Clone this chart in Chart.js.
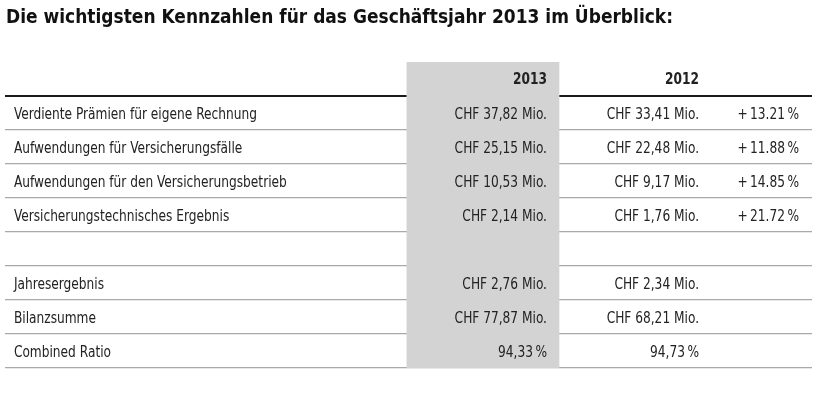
<!DOCTYPE html>
<html lang="de">
<head>
<meta charset="utf-8">
<script src="https://cdn.jsdelivr.net/npm/chart.js@4.4.1/dist/chart.umd.min.js"></script>
<style>
  html, body { margin: 0; padding: 0; background: #fff; }
  #wrap { width: 818px; height: 412px; }
</style>
</head>
<body>
<div id="wrap"><canvas id="kennzahlen"></canvas></div>
<script>
const tableTitle = 'Die wichtigsten Kennzahlen für das Geschäftsjahr 2013 im Überblick:';
const years = ['2013', '2012'];
const rowLabels = [
  'Verdiente Prämien für eigene Rechnung',
  'Aufwendungen für Versicherungsfälle',
  'Aufwendungen für den Versicherungsbetrieb',
  'Versicherungstechnisches Ergebnis',
  '',
  'Jahresergebnis',
  'Bilanzsumme',
  'Combined Ratio'
];
const units      = ['Mio', 'Mio', 'Mio', 'Mio', null, 'Mio', 'Mio', '%'];
const values2013 = [37.82, 25.15, 10.53, 2.14, null, 2.76, 77.87, 94.33];
const values2012 = [33.41, 22.48, 9.17, 1.76, null, 2.34, 68.21, 94.73];
const changePct  = [13.21, 11.88, 14.85, 21.72, null, null, null, null];

// column layout, in % of the table width (x scale 0..100)
const COL = { label: 1.1, bandFrom: 49.8, bandTo: 68.65, y2013: 67.16, y2012: 86.0, change: 98.39 };

const FONT = '"Liberation Sans Narrow", "DejaVu Sans Condensed", "Roboto Condensed", "Liberation Sans", sans-serif';
const INK = '#222';

/* ------------------------------
   Helpers
------------------------------ */

function fmtValue(v, unit) {
  if (v == null) return '';
  const s = v.toFixed(2).replace('.', ',');
  return unit === '%' ? s + '\u2009%' : 'CHF ' + s + ' Mio.';
}

function fmtChange(v) {
  return v == null ? '' : '+\u2009' + v.toFixed(2) + '\u2009%';
}

// condensed text: squeeze the glyphs horizontally, anchor stays put
function squeezed(ctx, text, x, y, sx, align) {
  if (!text) return;
  ctx.save();
  ctx.translate(x, y);
  ctx.scale(sx, 1);
  ctx.textAlign = align;
  ctx.fillText(text, 0, 0);
  ctx.restore();
}

// all row categories: header row first, then the data rows
const rows = [''].concat(rowLabels);

/* ------------------------------
   Title and cell texts, placed with the scales
------------------------------ */

const tableText = {
  id: 'tableText',
  afterDraw(chart) {
    const { ctx, scales: { x, y } } = chart;
    ctx.save();
    ctx.textBaseline = 'alphabetic';

    // title, fitted to the width of the original
    ctx.fillStyle = '#111';
    ctx.font = 'bold 19.5px ' + FONT;
    const tsx = 667 / ctx.measureText(tableTitle).width;
    squeezed(ctx, tableTitle, 6, 23, tsx, 'left');

    // body squeeze factor from the first label
    ctx.font = '15px ' + FONT;
    const sx = 243 / ctx.measureText(rowLabels[0]).width;

    ctx.fillStyle = INK;

    // header
    ctx.font = 'bold 15px ' + FONT;
    const yh = y.getPixelForValue(0) + 4.5;
    squeezed(ctx, years[0], x.getPixelForValue(COL.y2013), yh, sx, 'right');
    squeezed(ctx, years[1], x.getPixelForValue(COL.y2012), yh, sx, 'right');

    // body
    ctx.font = '15px ' + FONT;
    rowLabels.forEach((label, i) => {
      const yp = y.getPixelForValue(i + 1) + 6;
      squeezed(ctx, label, x.getPixelForValue(COL.label), yp, sx, 'left');
      squeezed(ctx, fmtValue(values2013[i], units[i]), x.getPixelForValue(COL.y2013), yp, sx, 'right');
      squeezed(ctx, fmtValue(values2012[i], units[i]), x.getPixelForValue(COL.y2012), yp, sx, 'right');
      squeezed(ctx, fmtChange(changePct[i]), x.getPixelForValue(COL.change), yp, sx, 'right');
    });
    ctx.restore();
  }
};

new Chart(document.getElementById('kennzahlen'), {
  type: 'bar',
  data: {
    labels: rows,
    datasets: [{
      // shaded 2013 column
      data: rows.map(() => [COL.bandFrom, COL.bandTo]),
      backgroundColor: '#d3d3d3',
      borderWidth: 0,
      borderSkipped: false,
      barPercentage: 1,
      categoryPercentage: 1
    }]
  },
  options: {
    indexAxis: 'y',
    responsive: true,
    maintainAspectRatio: false,
    animation: false,
    layout: { padding: { left: 5, right: 6, top: 62, bottom: 44 } },
    plugins: {
      legend: { display: false },
      tooltip: { enabled: false },
      title: { display: false }
    },
    scales: {
      x: { type: 'linear', min: 0, max: 100, display: false },
      y: {
        type: 'category',
        offset: true,
        z: 1,
        grid: {
          offset: true,
          drawTicks: false,
          color: c => c.index === 0 ? 'rgba(0,0,0,0)' : (c.index === 1 ? '#1a1a1a' : '#a9a9a9'),
          lineWidth: c => c.index === 1 ? 2 : 1.3
        },
        ticks: { display: false },
        border: { display: false }
      }
    }
  },
  plugins: [tableText]
});
</script>
</body>
</html>
